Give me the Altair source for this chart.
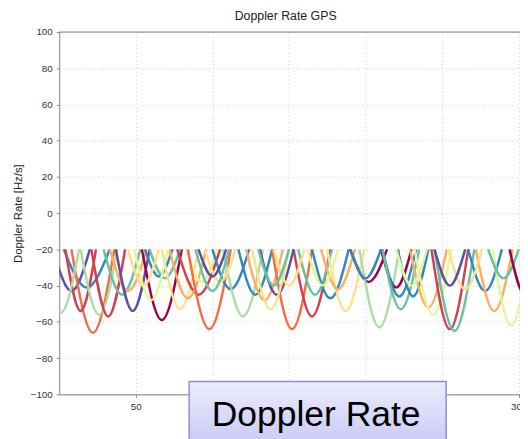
import altair as alt
import pandas as pd

# ---- data ----
series_names = ["S1", "S2", "S3", "S4", "S5", "S6", "S7", "S8", "S9", "S10"]
palette = ["#9e0142", "#d53e4f", "#f46d43", "#fdae61", "#fee08b",
           "#e6f598", "#abdda4", "#66c2a5", "#3288bd", "#5e4fa2"]

# each arc: series index, x of minimum, minimum value, half width (time units)
arc_series = [9, 8, 2, 1, 6, 6, 1, 7, 3, 9, 0, 7, 8, 4, 1, 3, 5, 2, 8, 6,
              8, 3, 2, 1, 9, 4, 7, 8, 4, 3, 0, 6, 0, 8, 7, 8, 3, 5, 1, 7,
              8, 3, 5, 7, 0, 4, 5, 4, 5, 7, 4, 5, 4, 7, 9, 8, 9]
arc_xmin = [8, 18, 22, 14, 1, 26, 32, 41, 45, 48, 67, 69, 65, 79, 91, 84, 93, 98, 112, 120,
            128, 134, 152, 165, 142, 138, 167, 177, 187, 182, 202, 209, 220, 222, 223, 231, 241, 244, 255, 258,
            278, 284, 295, 290, 304, 55, 60, 105, 172, 100, 150, 230, 265, 140, 100, 200, 255]
arc_ymin = [-43, -41, -66, -54, -55, -56, -57, -45, -43, -54, -59, -36, -35, -53, -45, -47, -38, -64, -42, -57,
            -45, -48, -64, -57, -45, -53, -45, -47, -54, -42, -38, -63, -41, -46, -53, -46, -52, -56, -64, -65,
            -43, -54, -62, -36, -45, -40, -48, -38, -40, -43, -40, -40, -42, -40, -35, -36, -40]
arc_halfwidth = [12, 15, 14, 10, 12, 12, 11, 12, 12, 11, 13, 10, 9, 12, 14, 12, 10, 14, 12, 13,
                 11, 12, 13, 12, 11, 12, 11, 12, 12, 11, 12, 13, 10, 11, 12, 10, 12, 12, 12, 13,
                 11, 12, 12, 10, 10, 10, 11, 10, 10, 11, 10, 10, 11, 10, 9, 10, 10]
arc_top = -20

y_ticks = [-100, -80, -60, -40, -20, 0, 20, 40, 60, 80, 100]
x_ticks = [50, 100, 150, 200, 250, 300]
x_labels_shown = [50, 300]   # the others are hidden behind the caption box

rows = []
for i, (s, xm, ym, hw) in enumerate(zip(arc_series, arc_xmin, arc_ymin, arc_halfwidth)):
    for xx, yy in ((xm - hw, arc_top), (xm, ym), (xm + hw, arc_top)):
        rows.append({"arc": i, "sat": series_names[s], "t": xx, "rate": yy})
df = pd.DataFrame(rows)

font = "Liberation Sans"
shown_expr = " || ".join(f"datum.value == {v}" for v in x_labels_shown)

x_scale = alt.Scale(domain=[0, 300.8], nice=False, zero=False)
y_scale = alt.Scale(domain=[-100, 100], nice=False, zero=False)

lines = alt.Chart(df).mark_line(
    interpolate="monotone", strokeWidth=2.5, clip=True
).encode(
    x=alt.X("t:Q", scale=x_scale,
            axis=alt.Axis(values=x_ticks, title=None, grid=True, gridDash=[1, 3],
                          gridColor="#cccccc", domainColor="#8a8a8a", ticks=True,
                          tickColor="#8a8a8a", tickSize=3, labelPadding=4,
                          labelExpr=f"({shown_expr}) ? datum.label : ''",
                          labelOverlap=False,
                          labelFont=font, labelFontSize=10, labelColor="#333333",
                          zindex=0)),
    y=alt.Y("rate:Q", scale=y_scale,
            axis=alt.Axis(values=y_ticks, title="Doppler Rate [Hz/s]", grid=True,
                          gridDash=[1, 3], gridColor="#cccccc", domainColor="#8a8a8a",
                          ticks=True, tickColor="#8a8a8a", tickSize=3, labelPadding=4,
                          labelOverlap=False,
                          labelFont=font, labelFontSize=10, labelColor="#333333",
                          titleFont=font, titleFontSize=11.5, titleFontWeight="normal",
                          titleColor="#222222", titlePadding=7, zindex=0)),
    color=alt.Color("sat:N", scale=alt.Scale(domain=series_names, range=palette), legend=None),
    detail="arc:N",
)

top_frame = alt.Chart(pd.DataFrame({"k": [0]})).mark_rule(
    color="#8a8a8a", strokeWidth=1
).encode(x=alt.value(0), x2=alt.value(468), y=alt.value(0))

box = alt.Chart(pd.DataFrame({"k": [0]})).mark_rect(
    fill=alt.Gradient(gradient="linear",
                      stops=[alt.GradientStop(color="#ececfd", offset=0),
                             alt.GradientStop(color="#c9c9f5", offset=1)],
                      x1=0, x2=0, y1=0, y2=1),
    stroke="#8c8cd2", strokeWidth=1.5
).encode(x=alt.value(132), x2=alt.value(393), y=alt.value(355), y2=alt.value(420))

box_text = alt.Chart(pd.DataFrame({"label": ["Doppler Rate"]})).mark_text(
    font=font, fontSize=36, color="#000000", align="center", baseline="alphabetic"
).encode(x=alt.value(261), y=alt.value(400), text="label:N")

chart = alt.layer(lines, top_frame, box, box_text).properties(
    width=468, height=368,
    title=alt.TitleParams("Doppler Rate GPS", font=font, fontSize=12.5,
                          fontWeight="normal", color="#222222", offset=5, dx=-4),
    autosize=alt.AutoSizeParams(type="none"),
    padding={"left": 52, "top": 21, "right": 0, "bottom": 42},
).configure_view(stroke=None).configure_axis(labelOverlap=False).configure(background="white")

chart.save("out.html", embed_options={"renderer": "svg", "actions": False})
